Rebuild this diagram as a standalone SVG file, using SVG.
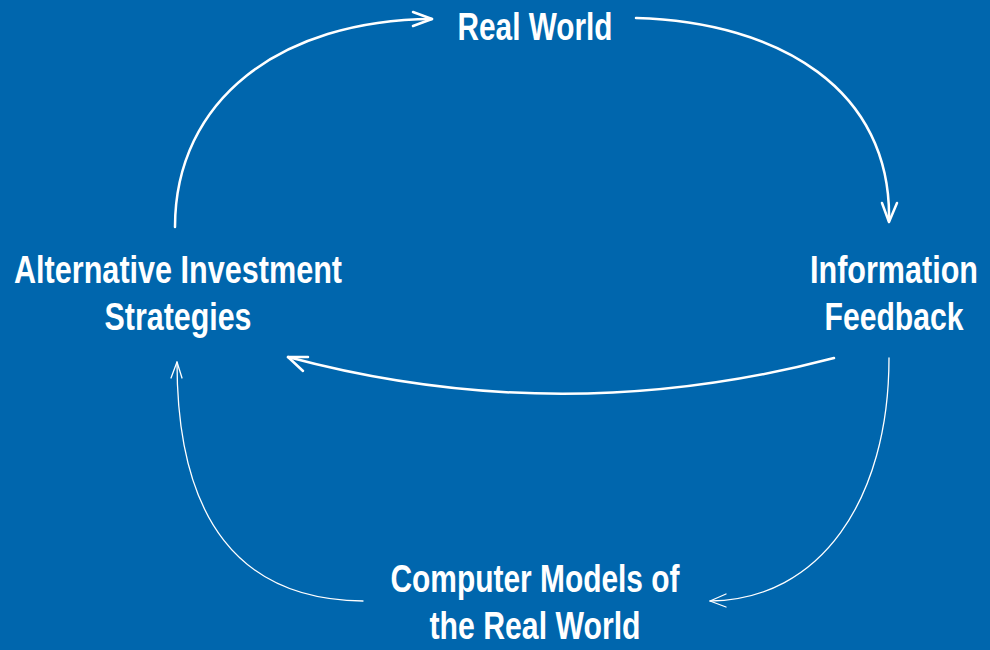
<svg xmlns="http://www.w3.org/2000/svg" width="990" height="650" viewBox="0 0 990 650">
<defs>
<style>
.lbl{font-family:"Liberation Sans",Arial,sans-serif;font-weight:bold;font-size:38px;fill:#ffffff;text-anchor:middle}
.thick{fill:none;stroke:#ffffff;stroke-width:2.5;stroke-linecap:round}
.thin{fill:none;stroke:#ffffff;stroke-width:1.3;stroke-linecap:round}
.head{fill:none;stroke:#ffffff;stroke-linecap:round;stroke-linejoin:round}
</style>
</defs>
<rect x="0" y="0" width="990" height="650" fill="#0066ad"/>
<g id="connectors">
<path class="thick" d="M175,227 C175,100 280,20 432,19"/>
<path class="head" stroke-width="2.5" d="M413,12 L432,19 L413,26"/>
<path class="thick" d="M636,18 C780,22 892,90 889,221"/>
<path class="head" stroke-width="2.5" d="M882,203 L889,222 L897,203"/>
<path class="thick" d="M834,358 Q560,430 288,357"/>
<path class="head" stroke-width="2.5" d="M308,357 L288,357 L303,371"/>
<path class="thin" d="M889,358 C889,500 820,600 710,601"/>
<path class="head" stroke-width="1.3" d="M726,594 L710,601 L726,607"/>
<path class="thin" d="M363,601 C240,600 177,520 177,362"/>
<path class="head" stroke-width="1.3" d="M171,378 L177,362 L182,378"/>
</g>
<g id="real-world"><text class="lbl" transform="translate(535 40) scale(0.78 1)" x="0" y="0" textLength="198.7" lengthAdjust="spacingAndGlyphs">Real World</text></g>
<g id="information-feedback">
<text class="lbl" transform="translate(894 283) scale(0.78 1)" x="0" y="0" textLength="215.4" lengthAdjust="spacingAndGlyphs">Information</text>
<text class="lbl" transform="translate(894 330) scale(0.78 1)" x="0" y="0" textLength="178.2" lengthAdjust="spacingAndGlyphs">Feedback</text>
</g>
<g id="alternative-investment">
<text class="lbl" transform="translate(178 283) scale(0.78 1)" x="0" y="0" textLength="420.5" lengthAdjust="spacingAndGlyphs">Alternative Investment</text>
<text class="lbl" transform="translate(178 330) scale(0.78 1)" x="0" y="0" textLength="188.5" lengthAdjust="spacingAndGlyphs">Strategies</text>
</g>
<g id="computer-models">
<text class="lbl" transform="translate(535 592) scale(0.78 1)" x="0" y="0" textLength="370.5" lengthAdjust="spacingAndGlyphs">Computer Models of</text>
<text class="lbl" transform="translate(535 639) scale(0.78 1)" x="0" y="0" textLength="270.5" lengthAdjust="spacingAndGlyphs">the Real World</text>
</g>
</svg>
